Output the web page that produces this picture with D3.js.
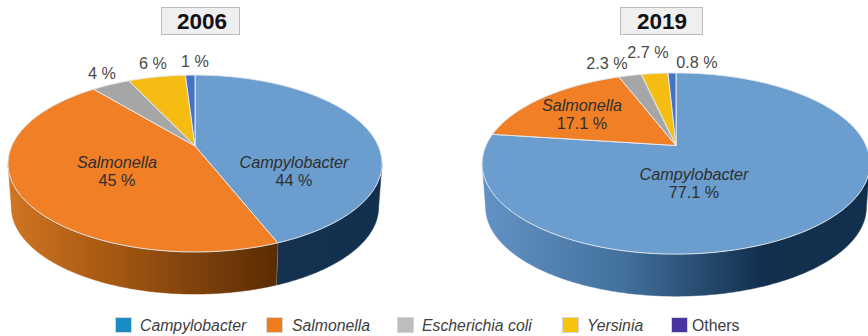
<!DOCTYPE html>
<html>
<head>
<meta charset="utf-8">
<script src="https://cdn.jsdelivr.net/npm/d3@7"></script>
<style>
  html, body { margin: 0; padding: 0; background: #fff; }
  svg { display: block; }
  text { font-family: "Liberation Sans", Arial, sans-serif; }
</style>
</head>
<body>
<svg id="chart" width="868" height="336"></svg>
<script>
// Share of foodborne outbreaks by pathogen, two reporting years
const categories = ["Campylobacter", "Salmonella", "Escherichia coli", "Yersinia", "Others"];
const values2006 = [44, 45, 4, 6, 1];
const values2019 = [77.1, 17.1, 2.3, 2.7, 0.8];
const labels2006 = ["44 %", "45 %", "4 %", "6 %", "1 %"];
const labels2019 = ["77.1 %", "17.1 %", "2.3 %", "2.7 %", "0.8 %"];
const topColors = ["#6b9dce", "#f07f26", "#a6a6a6", "#f5bd14", "#4472c4"];
const legendColors = ["#1a8cc4", "#ee7d1e", "#bdbdbd", "#f7c30c", "#4a35a0"];
const italicCategory = [true, true, true, true, false];

// Geometry of each tilted disc; the pie centre sits above the rim's visual middle
const discs = [
  { title: "2006", values: values2006, labels: labels2006, cx: 195, cy: 146, rx: 183.3, ry: 85, k: 0.198, depth: 44,
    box: [161, 7, 78, 27], titleX: 202,
    labelPos: [[294, 162], [117, 162], [102, 73], [153, 63], [195, 61]] },
  { title: "2019", values: values2019, labels: labels2019, cx: 676, cy: 145.5, rx: 190, ry: 87, k: 0.199, depth: 44,
    box: [620, 7, 82, 27], titleX: 662,
    labelPos: [[694, 174], [582, 105], [607, 63], [648, 52], [697, 62]] }
];

const svg = d3.select("#chart");
const defs = svg.append("defs");

const pie = d3.pie().sort(null).startAngle(0).endAngle(2 * Math.PI);

// Perspective projection of an angle on the disc to the screen
function projector(d, scale, dy) {
  return a => {
    const X = Math.sin(a), Y = -Math.cos(a), w = 1 - d.k * Y;
    return [d.cx + scale * d.rx * X / w, d.cy + dy + scale * d.ry * Y / w];
  };
}
function arcPoints(p, a0, a1) {
  const n = Math.max(2, Math.ceil((a1 - a0) / 0.01));
  return d3.range(n + 1).map(i => p(a0 + (a1 - a0) * i / n));
}
const line = d3.line();

// Side wall shading runs left to right, ending in the darkest tone
function sideGradient(id, x1, x2, stops) {
  const g = defs.append("linearGradient").attr("id", id)
    .attr("gradientUnits", "userSpaceOnUse")
    .attr("x1", x1).attr("x2", x2).attr("y1", 0).attr("y2", 0);
  stops.forEach(s => g.append("stop").attr("offset", s[0]).attr("stop-color", s[1]));
  return `url(#${id})`;
}

discs.forEach((d, di) => {
  const g = svg.append("g");
  const top = projector(d, 1, 0);
  const bottom = projector(d, 0.982, d.depth);
  const arcs = pie(d.values);

  // Only the part of the rim that faces the viewer has a visible wall
  const frontStart = Math.acos(-d.k), frontEnd = 2 * Math.PI - frontStart;
  const fills = di === 0
    ? [sideGradient("wall-a0", 276, 380, [[0, "#14324f"], [1, "#12304e"]]),
       sideGradient("wall-a1", 12, 276, [[0, "#cf7422"], [0.35, "#a85a12"], [1, "#5a2c05"]])]
    : [sideGradient("wall-b0", 486, 868, [[0, "#6292c4"], [0.35, "#44729f"], [0.72, "#12304e"], [1, "#12304e"]])];

  arcs.forEach((a, i) => {
    const a0 = Math.max(a.startAngle, frontStart), a1 = Math.min(a.endAngle, frontEnd);
    if (a1 <= a0 || !fills[i]) return;
    const pts = arcPoints(top, a0, a1).concat(arcPoints(bottom, a0, a1).reverse());
    g.append("path").attr("d", line(pts) + "Z").attr("fill", fills[i])
      .attr("stroke", fills[i]).attr("stroke-width", 0.5);
    if (a.endAngle < frontEnd) {
      g.append("path").attr("d", line([top(a1), bottom(a1)]))
        .attr("stroke", "#d9d9d9").attr("stroke-width", 1).attr("fill", "none");
    }
  });

  // Top face
  arcs.forEach((a, i) => {
    const pts = [[d.cx, d.cy]].concat(arcPoints(top, a.startAngle, a.endAngle));
    g.append("path").attr("d", line(pts) + "Z")
      .attr("fill", topColors[i]).attr("stroke", "#e4e9ef").attr("stroke-width", 1)
      .attr("stroke-linejoin", "round");
  });

  // Year box
  g.append("rect").attr("x", d.box[0] + 0.5).attr("y", d.box[1] + 0.5)
    .attr("width", d.box[2]).attr("height", d.box[3])
    .attr("fill", "#efefef").attr("stroke", "#bcbcbc");
  g.append("text").attr("x", d.titleX).attr("y", 29).attr("text-anchor", "middle")
    .attr("font-size", 22.5).attr("font-weight", "bold").attr("fill", "#111").text(d.title);

  // Slice labels: the two large slices carry their name above the value
  arcs.forEach((a, i) => {
    const [x, y] = d.labelPos[i];
    const inside = i < 2;
    if (inside) {
      g.append("text").attr("x", x).attr("y", y + 5.5).attr("text-anchor", "middle")
        .attr("font-size", 16.2).attr("font-style", "italic").attr("fill", "#2f2f2f").text(categories[i]);
    }
    g.append("text").attr("x", x).attr("y", (inside ? y + 18 : y) + 5.5).attr("text-anchor", "middle")
      .attr("font-size", 16.2).attr("fill", inside ? "#2f2f2f" : "#4a4a4a").text(d.labels[i]);
  });
});

// Legend along the bottom
const legendX = d3.scaleOrdinal().domain(categories).range([115, 266, 397, 562, 671]);
const legendTextX = d3.scaleOrdinal().domain(categories).range([140, 292, 422, 587, 692]);
const legend = svg.append("g");
categories.forEach((c, i) => {
  legend.append("rect").attr("x", legendX(c) + 0.5).attr("y", 317.5)
    .attr("width", 16).attr("height", 15)
    .attr("fill", legendColors[i]).attr("stroke", "#d5d5d5");
  legend.append("text").attr("x", legendTextX(c)).attr("y", 330.5)
    .attr("font-size", 15.8).attr("font-style", italicCategory[i] ? "italic" : "normal")
    .attr("fill", "#404040").text(c);
});
</script>
</body>
</html>
